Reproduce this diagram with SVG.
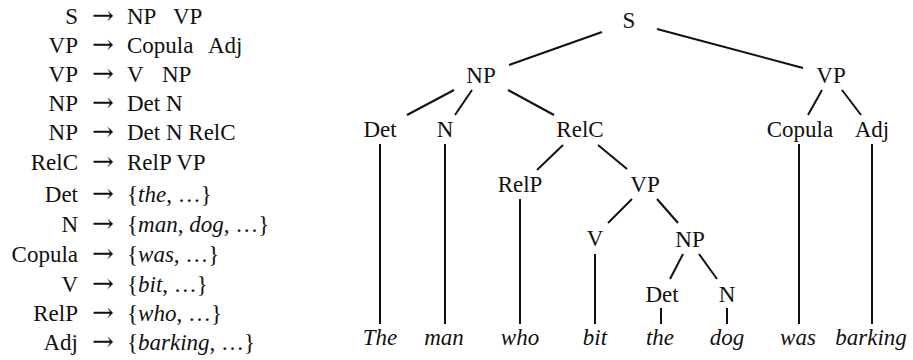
<svg xmlns="http://www.w3.org/2000/svg" width="913" height="360" viewBox="0 0 913 360">
<style>
.t{font-family:"Liberation Serif";font-size:23px}
.l{text-anchor:end}
.a{text-anchor:middle;font-size:26px;font-family:"DejaVu Serif"}
.n{text-anchor:middle}
.w{text-anchor:middle;font-style:italic}
.i{font-style:italic}
.e line{stroke:#111;stroke-width:2;stroke-linecap:butt}
</style>
<rect width="913" height="360" fill="#fff"/>
<g id="grammar" fill="#111">
<text class="t l" x="78" y="24">S</text><text class="a" x="103" y="24">→</text><text class="t" x="127" y="24">NP<tspan x="173">VP</tspan></text>
<text class="t l" x="78" y="53">VP</text><text class="a" x="103" y="53">→</text><text class="t" x="127" y="53">Copula<tspan x="208">Adj</tspan></text>
<text class="t l" x="78" y="82">VP</text><text class="a" x="103" y="82">→</text><text class="t" x="127" y="82">V<tspan x="162">NP</tspan></text>
<text class="t l" x="78" y="111">NP</text><text class="a" x="103" y="111">→</text><text class="t" x="127" y="111">Det N</text>
<text class="t l" x="78" y="140">NP</text><text class="a" x="103" y="140">→</text><text class="t" x="127" y="140">Det N RelC</text>
<text class="t l" x="78" y="170">RelC</text><text class="a" x="103" y="170">→</text><text class="t" x="127" y="170">RelP VP</text>
<text class="t l" x="78" y="202">Det</text><text class="a" x="103" y="202">→</text><text class="t" x="127" y="202">{<tspan class="i">the</tspan>, …}</text>
<text class="t l" x="78" y="232">N</text><text class="a" x="103" y="232">→</text><text class="t" x="127" y="232">{<tspan class="i">man</tspan>, <tspan class="i">dog</tspan>, …}</text>
<text class="t l" x="78" y="262">Copula</text><text class="a" x="103" y="262">→</text><text class="t" x="127" y="262">{<tspan class="i">was</tspan>, …}</text>
<text class="t l" x="78" y="292">V</text><text class="a" x="103" y="292">→</text><text class="t" x="127" y="292">{<tspan class="i">bit</tspan>, …}</text>
<text class="t l" x="78" y="321">RelP</text><text class="a" x="103" y="321">→</text><text class="t" x="127" y="321">{<tspan class="i">who</tspan>, …}</text>
<text class="t l" x="78" y="350">Adj</text><text class="a" x="103" y="350">→</text><text class="t" x="127" y="350">{<tspan class="i">barking</tspan>, …}</text>
</g>
<g id="edges" class="e">
<line x1="602" y1="32" x2="509" y2="65"/>
<line x1="657" y1="29" x2="803" y2="68"/>
<line x1="454" y1="90" x2="407" y2="115"/>
<line x1="472" y1="90" x2="455" y2="115"/>
<line x1="508" y1="90" x2="554" y2="115"/>
<line x1="380" y1="144" x2="380" y2="324"/>
<line x1="445" y1="144" x2="445" y2="324"/>
<line x1="563" y1="145" x2="537" y2="170"/>
<line x1="598" y1="145" x2="627" y2="169"/>
<line x1="520" y1="199" x2="520" y2="324"/>
<line x1="632" y1="199" x2="608" y2="223"/>
<line x1="657" y1="199" x2="678" y2="223"/>
<line x1="595" y1="254" x2="595" y2="324"/>
<line x1="683" y1="254" x2="670" y2="279"/>
<line x1="699" y1="254" x2="717" y2="279"/>
<line x1="661" y1="308" x2="661" y2="324"/>
<line x1="727" y1="308" x2="727" y2="324"/>
<line x1="822" y1="90" x2="808" y2="115"/>
<line x1="842" y1="90" x2="861" y2="115"/>
<line x1="799" y1="144" x2="799" y2="324"/>
<line x1="872" y1="144" x2="872" y2="324"/>
</g>
<g fill="#111">
<g id="n-S"><text class="t n" x="629" y="28">S</text></g>
<g id="n-NP1"><text class="t n" x="481" y="83">NP</text></g>
<g id="n-VP1"><text class="t n" x="831" y="83">VP</text></g>
<g id="n-Det1"><text class="t n" x="380" y="137">Det</text></g>
<g id="n-N1"><text class="t n" x="445" y="137">N</text></g>
<g id="n-RelC"><text class="t n" x="580" y="137">RelC</text></g>
<g id="n-Copula"><text class="t n" x="800" y="137">Copula</text></g>
<g id="n-Adj"><text class="t n" x="872" y="137">Adj</text></g>
<g id="n-RelP"><text class="t n" x="520" y="192">RelP</text></g>
<g id="n-VP2"><text class="t n" x="645" y="192">VP</text></g>
<g id="n-V"><text class="t n" x="595" y="246">V</text></g>
<g id="n-NP2"><text class="t n" x="690" y="247">NP</text></g>
<g id="n-Det2"><text class="t n" x="662" y="302">Det</text></g>
<g id="n-N2"><text class="t n" x="727" y="302">N</text></g>
<g id="w-The"><text class="t w" x="380" y="345">The</text></g>
<g id="w-man"><text class="t w" x="444" y="345">man</text></g>
<g id="w-who"><text class="t w" x="520" y="345">who</text></g>
<g id="w-bit"><text class="t w" x="595" y="345">bit</text></g>
<g id="w-the"><text class="t w" x="660" y="345">the</text></g>
<g id="w-dog"><text class="t w" x="727" y="345">dog</text></g>
<g id="w-was"><text class="t w" x="798" y="345">was</text></g>
<g id="w-barking"><text class="t w" x="871" y="345">barking</text></g>
</g>
</svg>
